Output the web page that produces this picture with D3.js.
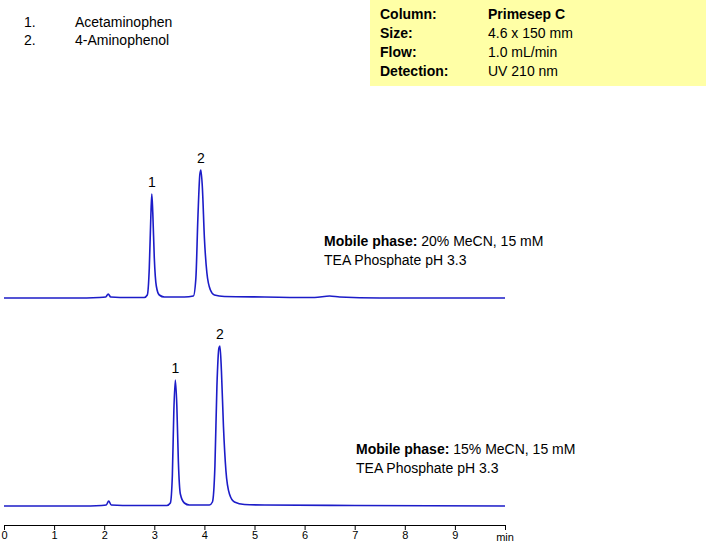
<!DOCTYPE html>
<html><head><meta charset="utf-8">
<script src="https://cdn.jsdelivr.net/npm/d3@7"></script>
<style>body{margin:0;background:#fff}text{font-family:"Liberation Sans",Arial,sans-serif}</style>
</head><body><svg id="chart" width="706" height="544"></svg>
<script>
// [time (min), signal above baseline]
const trace20 = [[0,0],[1.4,0],[1.9,0.5],[2.03,1],[2.08,4],[2.13,1],[2.5,0.5],[2.8,0.5],[2.86,3],[2.9,30],[2.93,80],[2.95,104],[2.97,85],[3.0,40],[3.04,12],[3.1,3],[3.2,1],[3.6,1],[3.78,2],[3.83,20],[3.87,80],[3.91,124],[3.93,128],[3.96,110],[4.0,60],[4.05,25],[4.12,8],[4.2,3],[4.4,1.5],[5.2,1],[6.2,0.5],[6.5,2],[6.7,1],[7.5,0],[10,0]];
const trace15 = [[0,0],[1.5,0],[1.95,0.5],[2.04,1],[2.09,5],[2.14,1],[2.6,0.5],[3.25,0.5],[3.32,3],[3.36,30],[3.39,95],[3.42,126],[3.45,100],[3.48,45],[3.52,12],[3.6,3],[3.7,1],[4.1,1],[4.16,4],[4.21,40],[4.25,120],[4.29,158],[4.31,160],[4.34,135],[4.38,80],[4.43,35],[4.5,12],[4.6,4],[4.8,1.5],[5.2,1],[7,0.5],[10,0]];
const peaks20 = [{t:2.95,h:104,label:"1"},{t:3.93,h:128,label:"2"}];
const peaks15 = [{t:3.42,h:126,label:"1"},{t:4.31,h:160,label:"2"}];
const xTicks = [0,1,2,3,4,5,6,7,8,9,10];
const legendItems = ["Acetaminophen","4-Aminophenol"];
const conditions = [["Column:","Primesep C"],["Size:","4.6 x 150 mm"],["Flow:","1.0 mL/min"],["Detection:","UV 210 nm"]];

const svg = d3.select("#chart");
const x = d3.scaleLinear().domain([0,10]).range([4,505]);
const color = "#1c1cc8";

function drawTrace(data, peaks, base, phase, tx, ty) {
  const y = d3.scaleLinear().domain([0,100]).range([base, base-100]);
  svg.append("path").datum(data)
    .attr("d", d3.line().x(d=>x(d[0])).y(d=>y(d[1])).curve(d3.curveMonotoneX))
    .attr("fill","none").attr("stroke",color).attr("stroke-width",1.6);
  svg.selectAll(null).data(peaks).enter().append("text")
    .attr("x",d=>x(d.t)).attr("y",d=>y(d.h)-7).attr("text-anchor","middle")
    .attr("font-size",14).text(d=>d.label);
  const t = svg.append("text").attr("x",tx).attr("y",ty).attr("font-size",14);
  t.append("tspan").attr("font-weight","bold").text("Mobile phase: ");
  t.append("tspan").text(phase);
  svg.append("text").attr("x",tx).attr("y",ty+19).attr("font-size",14).text("TEA Phosphate pH 3.3");
}
drawTrace(trace20, peaks20, 298, "20% MeCN, 15 mM", 324, 246);
drawTrace(trace15, peaks15, 506, "15% MeCN, 15 mM", 356, 454);

// axis
const ax = svg.append("g").attr("transform","translate(0,525)")
  .call(d3.axisBottom(x).tickValues(xTicks).tickSize(5).tickFormat(d=> d===10 ? "" : d));
ax.select(".domain").attr("stroke","#000");
ax.selectAll("text").attr("font-size",11).attr("font-family","Liberation Sans, Arial").attr("dy","0.5em");
svg.append("text").attr("x",505).attr("y",541).attr("font-size",11).attr("text-anchor","middle").text("min");

// legend
legendItems.forEach((s,i)=>{
  svg.append("text").attr("x",24).attr("y",27+i*18).attr("font-size",14).text((i+1)+".");
  svg.append("text").attr("x",75).attr("y",27+i*18).attr("font-size",14).text(s);
});

// conditions box
svg.append("rect").attr("x",370).attr("y",0).attr("width",336).attr("height",86).attr("fill","#ffffa6");
conditions.forEach((c,i)=>{
  svg.append("text").attr("x",380).attr("y",19+i*19).attr("font-size",14).attr("font-weight","bold").text(c[0]);
  svg.append("text").attr("x",488).attr("y",19+i*19).attr("font-size",14).attr("font-weight",i===0?"bold":"normal").text(c[1]);
});
</script></body></html>
